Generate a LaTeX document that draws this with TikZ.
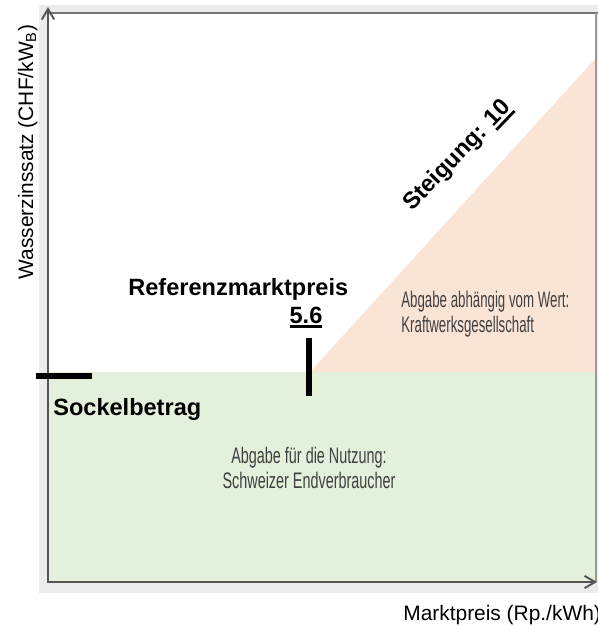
\documentclass[tikz,border=0pt]{standalone}
\usepackage{fontspec}
\setmainfont{Liberation Sans}
\newfontfamily\schmal[FakeStretch=0.59]{Liberation Sans}
\newfontfamily\halbschmal[FakeStretch=0.64]{Liberation Sans}
\usetikzlibrary{arrows.meta}
\definecolor{gruenflaeche}{RGB}{227,240,219}
\definecolor{lachsflaeche}{RGB}{250,228,214}
\definecolor{achsgrau}{RGB}{85,85,85}
\newcommand{\unterstrich}[1]{\vtop{\hbox{#1}\kern1.2pt\hrule height 1.6pt}}

\begin{document}
\begin{tikzpicture}[
  achse/.style={achsgrau,line width=1.1pt,-{Straight Barb[length=6pt,width=7pt,line width=1.1pt]}},
  marke/.style={black,line width=2.9pt},
  fett/.style={inner sep=0pt,font=\bfseries\fontsize{13.4}{16}\selectfont},
  achstext/.style={inner sep=0pt,font=\fontsize{11.9}{14}\selectfont},
  flaechentext/.style={inner sep=0pt,text=black!75}]
\useasboundingbox (0,0) rectangle (11.960,-12.520);
\fill[black!8] (0.780,-0.100) rectangle (11.960,-11.860);
\fill[white] (0.960,-0.260) rectangle (11.920,-11.640);
\fill[gruenflaeche] (0.960,-7.440) rectangle (11.920,-11.640);
\fill[lachsflaeche] (6.200,-7.440) -- (11.920,-7.440) -- (11.920,-1.160) -- cycle;
\draw[black!55,line width=1.6pt] (0.960,-0.260) -- (11.960,-0.260);
\draw[black!40,line width=0.6pt] (11.920,-0.260) -- (11.920,-11.640);
\draw[achse] (0.960,-11.660) -- (0.960,-0.140);
\draw[achse] (0.940,-11.640) -- (11.940,-11.640);
\draw[marke] (0.720,-7.520) -- (1.840,-7.520);
\draw[marke] (6.180,-6.760) -- (6.180,-7.920);
\node[achstext,rotate=90,anchor=base] (ylabel) at (0.660,-3.040) {Wasserzinssatz (CHF/kW\textsubscript{B})};
\node[achstext,anchor=base west] (xlabel) at (8.060,-12.400) {Marktpreis (Rp./kWh)};
\node[fett,anchor=base west] (sockel) at (1.060,-8.300) {Sockelbetrag};
\node[fett,anchor=base west] (refpreis) at (2.560,-5.900) {Referenzmarktpreis};
\node[fett,anchor=base] (refwert) at (6.120,-6.460) {\unterstrich{5.6}};
\node[fett,rotate=46,anchor=base] (steigung) at (9.240,-3.200) {Steigung: \unterstrich{10}};
\node[flaechentext,font=\schmal\fontsize{12.8}{14}\selectfont,align=left,anchor=west] (abgabewert) at (8.020,-6.280) {Abgabe abhängig vom Wert:\\Kraftwerksgesellschaft};
\node[flaechentext,font=\halbschmal\fontsize{12.8}{14}\selectfont,align=center] (abgabenutzung) at (6.180,-9.360) {Abgabe für die Nutzung:\\Schweizer Endverbraucher};
\end{tikzpicture}
\end{document}
